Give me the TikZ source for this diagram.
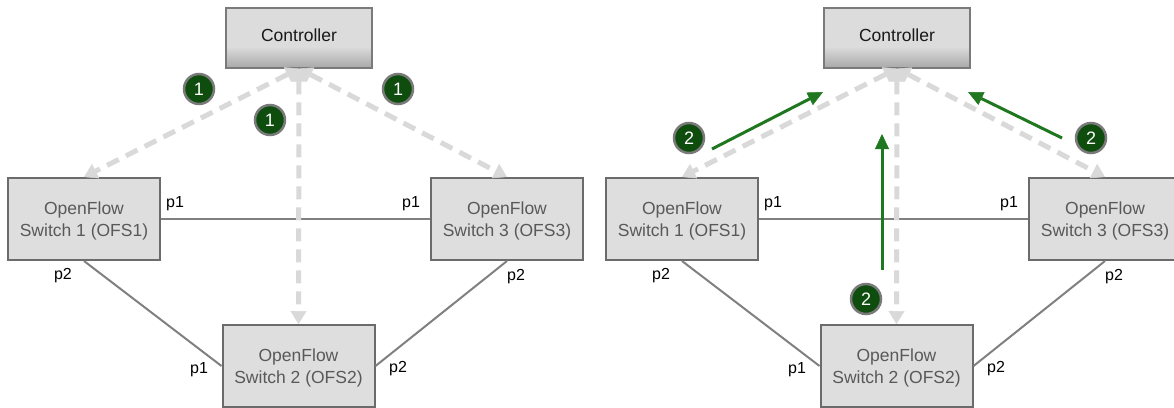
\documentclass[tikz,border=0pt]{standalone}
\usepackage{fontspec}
\setmainfont{Liberation Sans}
\usetikzlibrary{arrows.meta}

\definecolor{swfill}{HTML}{DEDEDE}
\definecolor{swborder}{HTML}{6B6B6B}
\definecolor{swtext}{HTML}{595959}
\definecolor{ctrllight}{HTML}{DCDCDC}
\definecolor{ctrldark}{HTML}{A8A8A8}
\definecolor{ctrlborder}{HTML}{7A7A7A}
\definecolor{dashgray}{HTML}{D9D9D9}
\definecolor{linkgray}{HTML}{808080}
\definecolor{badgegreen}{HTML}{0E4D0E}
\definecolor{badgeborder}{HTML}{7A7A7A}
\definecolor{flowgreen}{HTML}{1F771F}

% controller fill: flat light gray, darkening towards the bottom edge
\pgfdeclareverticalshading{ctrlshade}{100bp}{%
  color(0bp)=(ctrldark); color(25bp)=(ctrldark);
  color(43bp)=(ctrllight); color(100bp)=(ctrllight)}

\tikzset{
  swbox/.style={draw=swborder, line width=2pt, fill=swfill,
    minimum width=152pt, minimum height=82pt, inner sep=0pt,
    align=center, text=swtext,
    font=\fontsize{17.5}{21.5}\selectfont},
  ctrlbox/.style={draw=ctrlborder, line width=1.2pt, shading=ctrlshade,
    minimum width=146pt, minimum height=60pt, inner sep=0pt,
    font=\fontsize{17.5}{21}\selectfont, text=black!90},
  ctlink/.style={draw=dashgray, line width=5pt,
    dash pattern=on 13pt off 8pt,
    {Triangle[length=13pt,width=16pt,line width=0.5pt]}-{Triangle[length=13pt,width=16pt,line width=0.5pt]}},
  datalink/.style={draw=linkgray, line width=2pt},
  portlbl/.style={inner sep=0pt, text=black,
    font=\fontsize{16}{18}\selectfont},
  badge/.style={circle, draw=badgeborder, line width=2.5pt,
    fill=badgegreen, minimum size=30pt, inner sep=0pt, text=white,
    font=\fontsize{18}{20}\selectfont},
  flowarrow/.style={draw=flowgreen, line width=3pt,
    -{Triangle[length=15pt,width=14pt,line width=0.5pt]}},
}

% controller, three switches, their links and the control channels
\newcommand\switchnet{%
  \node[ctrlbox] (ctrl) at (299,38) {};
  \node[font=\fontsize{17.5}{21}\selectfont, text=black!90, inner sep=0pt]
    (ctrltext) at (299,35) {Controller};
  \node[swbox] (s1) at (84,219) {};
  \node[swbox] (s3) at (507,219) {};
  \node[swbox] (s2) at (298.5,366) {};
  \node[swbox, draw=none, fill=none] (t1) at (84,221) {OpenFlow\\Switch 1 (OFS1)};
  \node[swbox, draw=none, fill=none] (t3) at (507,221) {OpenFlow\\Switch 3 (OFS3)};
  \node[swbox, draw=none, fill=none] (t2) at (298.5,368) {OpenFlow\\Switch 2 (OFS2)};
  \draw[datalink] (s1.east) -- (s3.west);
  \draw[datalink] (s1.south) -- (s2.west);
  \draw[datalink] (s3.south) -- (s2.east);
  \draw[ctlink] (ctrl.south) -- (s1.north);
  \draw[ctlink] (ctrl.south) -- (s3.north);
  \draw[ctlink] (ctrl.south) -- (s2.north);
  \node[portlbl] (p1a) at (175,204) {p1};
  \node[portlbl] (p1b) at (411,204) {p1};
  \node[portlbl] (p2a) at (63,276) {p2};
  \node[portlbl] (p2b) at (516,277) {p2};
  \node[portlbl] (p1c) at (199,370) {p1};
  \node[portlbl] (p2c) at (398,369) {p2};
}

\begin{document}
\begin{tikzpicture}[x=1pt,y=-1pt]
  \useasboundingbox (0,0) rectangle (1174,407);

  % step 1: controller reaches every switch
  \begin{scope}[name prefix=L-]
    \switchnet
    \node[badge] (b1) at (199,89) {1};
    \node[badge] (b2) at (270,120) {1};
    \node[badge] (b3) at (398,89) {1};
  \end{scope}

  % step 2: switches answer the controller
  \begin{scope}[xshift=598pt, name prefix=R-]
    \switchnet
    \node[badge] (b1) at (91,138) {2};
    \node[badge] (b2) at (268,299) {2};
    \node[badge] (b3) at (493,138) {2};
    \coordinate (f1a) at (114,149);
    \coordinate (f1b) at (225,92);
    \coordinate (f2a) at (284,270);
    \coordinate (f2b) at (284,134);
    \coordinate (f3a) at (464,138);
    \coordinate (f3b) at (370,92);
    \draw[flowarrow] (f1a) -- (f1b);
    \draw[flowarrow] (f2a) -- (f2b);
    \draw[flowarrow] (f3a) -- (f3b);
  \end{scope}
\end{tikzpicture}
\end{document}
